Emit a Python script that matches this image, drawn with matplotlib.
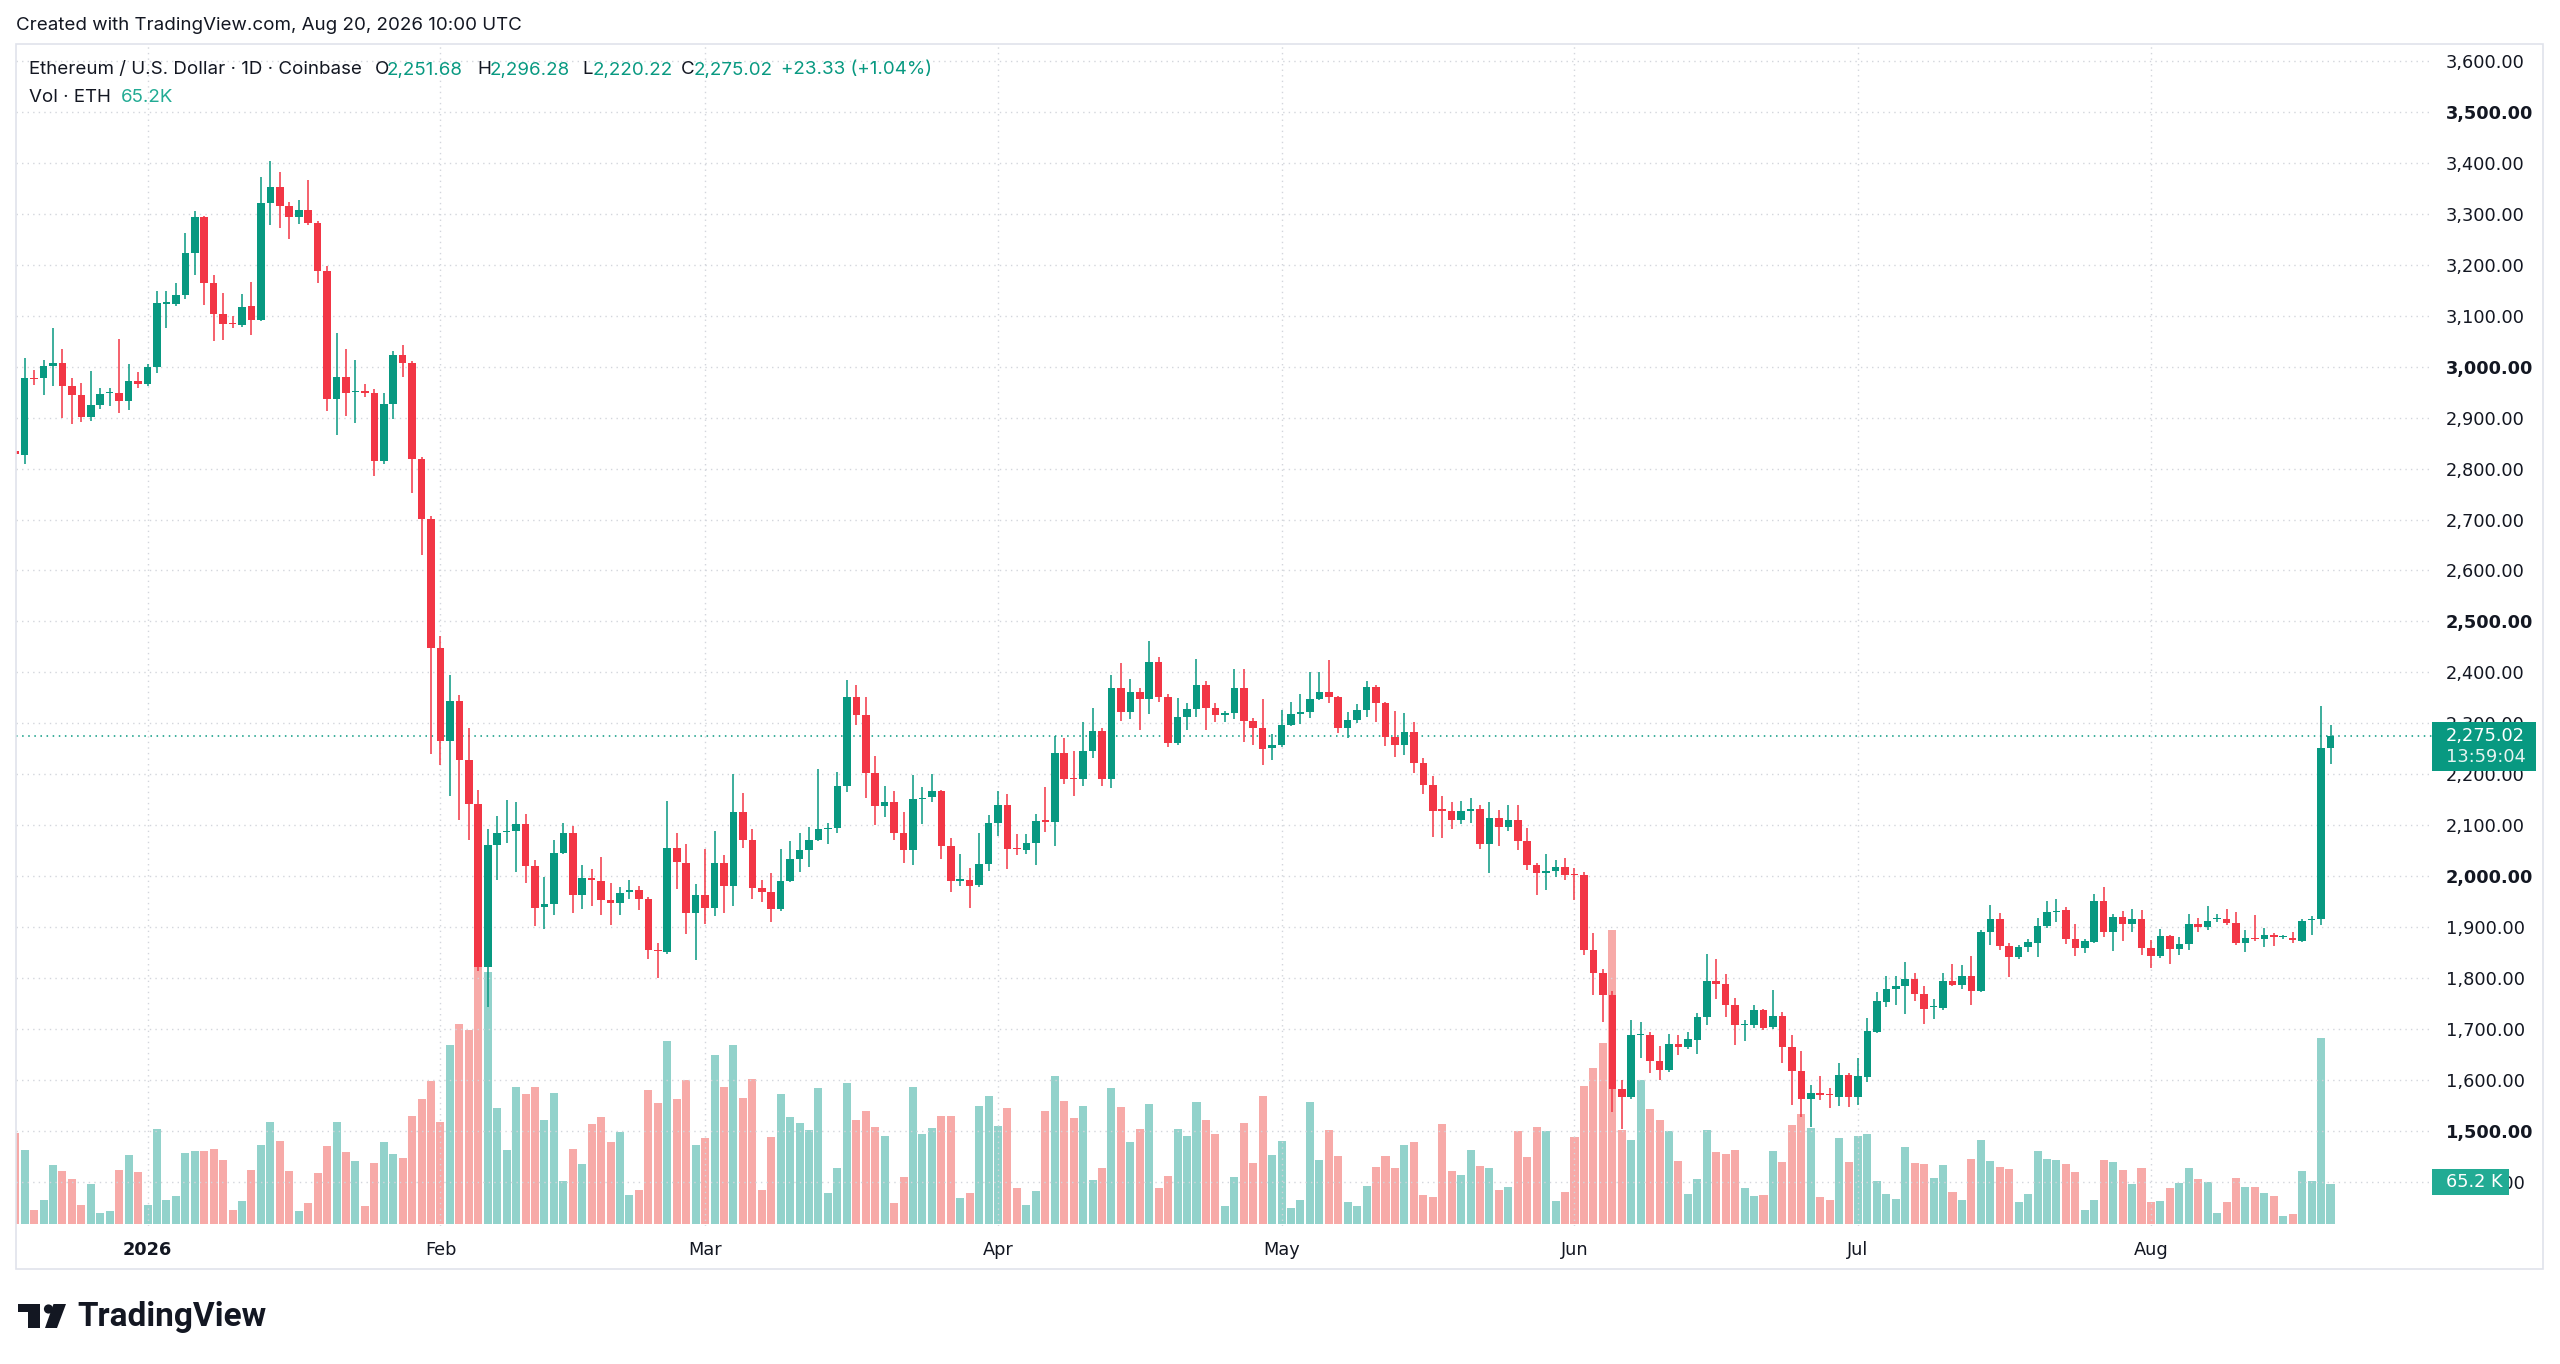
import numpy as np
import pandas as pd
import matplotlib
matplotlib.use("Agg")
import matplotlib.pyplot as plt
from matplotlib.patches import Rectangle, Polygon, Circle

# daily candles, Dec 18 2025 .. Aug 20 2026
start_date = "2025-12-18"

opens = [
    2835, 2827, 2978, 2977, 3001, 3008, 2962, 2944, 2902, 2925, 2948, 2949, 2933, 2971,
    2966, 3000, 3124, 3124, 3141, 3223, 3294, 3164, 3104, 3086, 3081, 3119, 3091, 3322, 3352, 3315,
    3294, 3307, 3283, 3187, 2937, 2979, 2951, 2953, 2949, 2814, 2926, 3022, 3007, 2819, 2701,
    2447, 2266, 2344, 2229, 2142, 1822, 2062, 2087, 2088, 2103, 2020, 1940, 1946, 2045, 2085,
    1964, 1996, 1990, 1953, 1948, 1969, 1973, 1956, 1856, 1851, 2056, 2026, 1928,
    1963, 1938, 2025, 1981, 2126, 2072, 1977, 1969, 1936, 1991, 2034, 2051, 2072, 2092, 2095,
    2177, 2352, 2317, 2203, 2138, 2146, 2084, 2052, 2151, 2155, 2167, 2059, 1991, 1993, 1982, 2023,
    2104, 2140, 2056, 2052, 2066, 2110, 2106, 2241, 2192, 2190, 2246, 2285, 2191, 2370, 2323,
    2362, 2348, 2420, 2351, 2262, 2313, 2328, 2375, 2331, 2316, 2320, 2370, 2304, 2290, 2252,
    2257, 2296, 2318, 2323, 2348, 2361, 2351, 2290, 2307, 2327, 2372, 2340, 2274, 2257, 2283,
    2223, 2179, 2131, 2128, 2110, 2127, 2131, 2064, 2115, 2097, 2110, 2069, 2021, 2007, 2011, 2018,
    2004, 2003, 1856, 1810, 1767, 1582, 1566, 1689, 1689, 1638, 1619, 1670, 1664, 1679, 1723,
    1794, 1789, 1748, 1708, 1707, 1737, 1704, 1725, 1664, 1618, 1563, 1574, 1572, 1567, 1610,
    1567, 1606, 1695, 1754, 1779, 1784, 1798, 1769, 1743, 1742, 1794, 1786, 1805, 1774, 1890,
    1916, 1862, 1841, 1861, 1869, 1902, 1930, 1934, 1876, 1859, 1871, 1952, 1890, 1919, 1907, 1916,
    1859, 1843, 1882, 1857, 1867, 1907, 1901, 1915, 1915, 1908, 1869, 1879, 1877, 1884, 1880,
    1879, 1872, 1914, 1916, 2251.68,
]
highs = [
    2995, 3018, 2993, 3013, 3076, 3034, 2977, 2969, 2992, 2959, 2959, 3055, 3005, 2990,
    3006, 3148, 3148, 3165, 3263, 3306, 3296, 3180, 3145, 3099, 3143, 3166, 3373, 3404, 3382, 3324,
    3327, 3366, 3286, 3197, 3066, 3035, 3014, 2966, 2956, 2948, 3031, 3042, 3011, 2823, 2707,
    2472, 2394, 2356, 2291, 2169, 2093, 2119, 2150, 2146, 2122, 2031, 1998, 2072, 2105, 2099,
    2022, 2015, 2037, 1986, 1979, 1993, 1981, 1960, 1868, 2148, 2084, 2064, 1985,
    2053, 2088, 2041, 2200, 2163, 2092, 1993, 2006, 2053, 2069, 2085, 2096, 2210, 2105, 2204,
    2385, 2376, 2352, 2235, 2177, 2167, 2126, 2198, 2176, 2200, 2170, 2075, 2044, 2016, 2084, 2121,
    2167, 2161, 2082, 2082, 2123, 2176, 2275, 2272, 2246, 2303, 2331, 2290, 2395, 2418, 2388,
    2370, 2462, 2430, 2357, 2349, 2340, 2426, 2383, 2340, 2325, 2406, 2406, 2311, 2348, 2279,
    2327, 2342, 2357, 2400, 2400, 2425, 2353, 2323, 2338, 2384, 2375, 2341, 2325, 2320, 2302,
    2231, 2197, 2157, 2146, 2148, 2154, 2139, 2146, 2129, 2140, 2139, 2095, 2026, 2043, 2031, 2035,
    2016, 2008, 1889, 1818, 1774, 1600, 1718, 1713, 1695, 1666, 1691, 1689, 1695, 1731, 1848,
    1838, 1809, 1761, 1718, 1748, 1739, 1777, 1733, 1689, 1656, 1590, 1607, 1584, 1633, 1613,
    1643, 1722, 1773, 1805, 1805, 1831, 1810, 1784, 1759, 1810, 1828, 1825, 1844, 1895, 1944,
    1928, 1869, 1865, 1877, 1917, 1951, 1955, 1939, 1907, 1876, 1965, 1979, 1926, 1932, 1936, 1934,
    1874, 1897, 1885, 1881, 1926, 1918, 1941, 1925, 1936, 1930, 1895, 1923, 1899, 1889, 1885,
    1890, 1916, 1921, 2334, 2296.28,
]
lows = [
    2775, 2809, 2965, 2944, 2962, 2900, 2887, 2891, 2894, 2917, 2923, 2909, 2915, 2959,
    2962, 2988, 3075, 3119, 3133, 3180, 3122, 3050, 3053, 3076, 3078, 3063, 3089, 3278, 3272, 3251,
    3281, 3278, 3164, 2913, 2866, 2904, 2889, 2941, 2785, 2810, 2897, 2980, 2752, 2631, 2239,
    2218, 2157, 2110, 2072, 1814, 1743, 1993, 2066, 2008, 1987, 1902, 1897, 1924, 2043, 1928,
    1936, 1942, 1923, 1905, 1923, 1956, 1934, 1837, 1800, 1847, 1975, 1886, 1835,
    1906, 1921, 1927, 1942, 2056, 1956, 1949, 1911, 1932, 1988, 2008, 2019, 2070, 2063, 2085,
    2165, 2296, 2154, 2100, 2116, 2072, 2026, 2022, 2102, 2146, 2033, 1969, 1980, 1938, 1979, 2010,
    2079, 2015, 2041, 2044, 2021, 2087, 2059, 2180, 2157, 2177, 2231, 2177, 2174, 2305, 2308,
    2287, 2318, 2341, 2254, 2258, 2287, 2313, 2287, 2302, 2302, 2308, 2264, 2257, 2218, 2229,
    2254, 2294, 2298, 2310, 2346, 2340, 2281, 2271, 2300, 2313, 2303, 2256, 2233, 2237, 2203,
    2161, 2077, 2075, 2092, 2102, 2104, 2054, 2007, 2059, 2089, 2051, 2013, 1963, 1972, 1999, 1992,
    1954, 1845, 1767, 1714, 1538, 1503, 1562, 1643, 1613, 1600, 1616, 1649, 1661, 1651, 1708,
    1758, 1723, 1668, 1677, 1702, 1699, 1701, 1633, 1550, 1528, 1507, 1560, 1545, 1548, 1547,
    1550, 1596, 1692, 1743, 1748, 1729, 1756, 1710, 1720, 1737, 1784, 1779, 1748, 1772, 1864,
    1856, 1802, 1837, 1851, 1842, 1899, 1910, 1866, 1844, 1850, 1869, 1881, 1854, 1872, 1891, 1846,
    1820, 1840, 1827, 1846, 1855, 1890, 1894, 1910, 1905, 1864, 1851, 1872, 1861, 1863, 1876,
    1869, 1871, 1885, 1905, 2220.22,
]
closes = [
    2828, 2977, 2976, 3001, 3008, 2962, 2944, 2902, 2925, 2946, 2950, 2933, 2971, 2966,
    3000, 3125, 3127, 3141, 3223, 3294, 3164, 3104, 3084, 3083, 3117, 3091, 3322, 3352, 3315, 3294,
    3307, 3283, 3187, 2937, 2979, 2949, 2953, 2949, 2814, 2926, 3022, 3007, 2819, 2701, 2447,
    2266, 2344, 2229, 2142, 1822, 2062, 2085, 2089, 2103, 2020, 1938, 1946, 2045, 2085, 1964,
    1996, 1992, 1953, 1948, 1967, 1973, 1956, 1855, 1853, 2056, 2027, 1928, 1963,
    1938, 2025, 1981, 2126, 2072, 1977, 1969, 1936, 1991, 2034, 2051, 2072, 2092, 2095, 2177,
    2352, 2317, 2203, 2138, 2146, 2084, 2052, 2152, 2154, 2167, 2059, 1990, 1994, 1980, 2023, 2104,
    2140, 2054, 2053, 2066, 2108, 2107, 2241, 2190, 2190, 2246, 2285, 2191, 2370, 2323, 2362,
    2348, 2420, 2351, 2262, 2313, 2328, 2375, 2331, 2316, 2320, 2370, 2304, 2290, 2250, 2257,
    2296, 2318, 2323, 2348, 2361, 2351, 2290, 2307, 2327, 2372, 2340, 2274, 2257, 2283, 2223,
    2179, 2128, 2128, 2110, 2127, 2131, 2064, 2115, 2097, 2110, 2069, 2021, 2007, 2011, 2018, 2003,
    2002, 1856, 1810, 1767, 1582, 1566, 1689, 1691, 1638, 1619, 1670, 1664, 1680, 1723, 1794,
    1789, 1748, 1707, 1710, 1737, 1702, 1725, 1664, 1617, 1563, 1574, 1570, 1570, 1610, 1567,
    1607, 1697, 1756, 1779, 1784, 1798, 1769, 1740, 1745, 1794, 1786, 1805, 1774, 1890, 1916,
    1862, 1841, 1861, 1871, 1902, 1929, 1932, 1876, 1859, 1872, 1952, 1890, 1919, 1907, 1916, 1859,
    1843, 1882, 1857, 1867, 1907, 1901, 1912, 1918, 1908, 1869, 1879, 1877, 1884, 1880, 1882,
    1874, 1912, 1916, 2251.69, 2275.02,
]
# volume, thousand ETH
volumes = [
    149.4, 120.6, 22.8, 39.7, 96.7, 86.9, 73.3, 31.5, 65.7, 17.9, 21.7, 88.6, 113.0, 84.8,
    31.5, 155.4, 39.7, 46.2, 115.7, 119.5, 119.5, 122.8, 104.9, 22.8, 38.6, 88.6, 129.3, 166.8, 135.8, 86.9,
    21.7, 34.8, 83.7, 128.2, 166.8, 117.9, 103.8, 30.4, 100.0, 134.2, 114.1, 107.6, 176.0, 204.3, 233.6,
    166.8, 292.3, 326.5, 317.3, 420.0, 412.0, 190.2, 120.6, 224.4, 211.9, 224.4, 170.6, 214.1, 70.6, 122.8,
    97.8, 163.0, 174.4, 133.7, 150.0, 47.8, 55.4, 218.9, 197.8, 298.8, 204.3, 235.2, 129.3,
    141.3, 276.0, 224.4, 292.3, 205.4, 236.9, 55.4, 142.3, 211.9, 174.4, 165.2, 153.8, 221.7, 51.1, 92.4,
    230.9, 170.6, 184.7, 158.1, 144.0, 34.8, 77.1, 224.4, 147.8, 156.5, 177.1, 176.0, 43.5, 51.1, 192.3, 208.6,
    160.8, 190.2, 59.8, 32.1, 53.8, 184.7, 242.3, 200.5, 173.3, 193.4, 71.7, 92.4, 221.7, 191.2, 133.7,
    155.4, 196.1, 58.7, 79.3, 155.4, 143.4, 198.8, 170.6, 147.2, 30.4, 76.6, 165.2, 100.0, 209.2, 113.0,
    135.8, 26.6, 39.7, 199.9, 104.9, 153.8, 111.9, 36.9, 29.3, 63.0, 93.4, 111.9, 92.4, 129.3, 134.7,
    47.8, 44.6, 163.0, 86.9, 80.4, 120.6, 95.1, 92.4, 55.4, 61.4, 151.6, 110.3, 158.1, 152.7, 38.6, 52.2,
    142.3, 226.0, 255.4, 296.1, 479.7, 153.8, 137.5, 234.7, 187.4, 169.5, 152.7, 103.8, 49.4, 73.9, 153.8,
    117.9, 115.2, 121.7, 59.8, 46.2, 47.8, 119.5, 101.1, 161.9, 179.8, 157.6, 44.6, 39.7, 141.3, 101.1,
    144.5, 147.8, 70.6, 50.0, 41.3, 126.0, 100.0, 98.9, 75.5, 96.7, 52.2, 39.7, 106.5, 136.9, 103.8,
    93.4, 90.7, 36.9, 48.9, 119.5, 106.5, 104.9, 98.9, 85.8, 23.4, 39.7, 104.9, 101.1, 88.6, 65.2, 91.3,
    36.9, 38.6, 59.8, 67.9, 91.3, 73.9, 69.0, 17.9, 36.9, 75.5, 61.4, 61.4, 51.1, 45.6, 13.6,
    16.3, 86.9, 70.6, 304.2, 65.2,
]

month_labels = ["2026", "Feb", "Mar", "Apr", "May", "Jun", "Jul", "Aug"]
price_ticks = np.arange(1400, 3601, 100)

GREEN = "#089981"
RED = "#F23645"
VOL_UP = "#92D2CB"
VOL_DN = "#F7AAA8"
TXT = "#131722"
GRID = "#D3D6DC"
BORDER = "#E0E3EB"

W, H = 2560, 1364
fig = plt.figure(figsize=(W / 100, H / 100), dpi=100)
fig.patch.set_facecolor("white")


def fx(px):
    return px / W


def fy(py):
    return 1 - py / H


ref = pd.Timestamp("2026-01-01")
dates = pd.date_range(start_date, periods=len(closes), freq="D")
x = np.asarray((dates - ref).days, dtype=float)
o = np.array(opens, dtype=float)
h = np.array(highs, dtype=float)
l = np.array(lows, dtype=float)
c = np.array(closes, dtype=float)
v = np.array(volumes, dtype=float)
up = c >= o

ax = fig.add_axes([fx(15.5), fy(1226), fx(2432) - fx(15.5), fy(44) - fy(1226)])
axv = ax.twinx()
ax.set_zorder(axv.get_zorder() + 1)
ax.patch.set_visible(False)

# volume pane (behind candles)
axv.bar(x, v, width=0.85, color=np.where(up, VOL_UP, VOL_DN), linewidth=0)
axv.set_ylim(-2.8, 1924)
axv.set_yticks([])
for s in axv.spines.values():
    s.set_visible(False)

# candles
cols = np.where(up, GREEN, RED)
ax.vlines(x, l, h, colors=cols, linewidth=1.1, zorder=3)
ax.bar(x, np.maximum(np.abs(c - o), 2.0), bottom=np.minimum(o, c), width=0.8,
       color=cols, linewidth=0, zorder=4)
ax.axhline(c[-1], color=GREEN, linewidth=1.1, linestyle=(0, (1, 3)), zorder=2)

ax.set_xlim(-13.97, 241.74)
ax.set_ylim(1313.4, 3633.4)

month_starts = pd.date_range("2026-01-01", periods=len(month_labels), freq="MS")
ax.set_xticks((month_starts - ref).days)
ax.set_xticklabels(month_labels)
ax.yaxis.tick_right()
ax.set_yticks(price_ticks)
ax.set_yticklabels([f"{p:,.2f}" for p in price_ticks])
ax.tick_params(axis="y", length=0, pad=10, labelsize=12.8, labelcolor=TXT)
ax.tick_params(axis="x", length=0, pad=11, labelsize=12.8, labelcolor=TXT)
for lab, p in zip(ax.get_yticklabels(), price_ticks):
    if p % 500 == 0:
        lab.set_fontweight("bold")
ax.get_xticklabels()[0].set_fontweight("bold")
ax.grid(True, color=GRID, linewidth=1.0, linestyle=(0, (1, 3)), zorder=0)
ax.set_axisbelow(True)
for s in ax.spines.values():
    s.set_visible(False)

# overlay in pixel coordinates for the TradingView frame and labels
ov = fig.add_axes([0, 0, 1, 1], zorder=10)
ov.set_xlim(0, W)
ov.set_ylim(H, 0)
ov.axis("off")
ov.patch.set_alpha(0)

ov.add_patch(Rectangle((15.5, 44), 2543 - 15.5, 1269 - 44, fill=False,
                       edgecolor=BORDER, linewidth=1.2))

ui = ["Inter", "DejaVu Sans"]
fs = 13.5
ov.text(16, 25, "Created with TradingView.com, Aug 20, 2026 10:00 UTC", fontsize=fs,
        color=TXT, va="center", ha="left", family=ui)

ov.text(29, 70, "Ethereum / U.S. Dollar · 1D · Coinbase", fontsize=fs, color=TXT,
        va="center", ha="left", family=ui)
legend_parts = [("O", 375), ("H", 477), ("L", 582), ("C", 681)]
ohlc_last = [opens[-1], highs[-1], lows[-1], closes[-1]]
value_x = [387, 490, 593, 694]
for (key, kx), val, vx in zip(legend_parts, ohlc_last, value_x):
    ov.text(kx, 70, key, fontsize=fs, color=TXT, va="center", ha="left", family=ui)
    ov.text(vx, 70, f"{val:,.2f}", fontsize=fs, color=GREEN, va="center", ha="left", family=ui)
chg = closes[-1] - closes[-2]
ov.text(781, 70, f"{chg:+.2f} ({chg / closes[-2] * 100:+.2f}%)", fontsize=fs, color=GREEN,
        va="center", ha="left", family=ui)
ov.text(29, 97, "Vol · ETH", fontsize=fs, color=TXT, va="center", ha="left", family=ui)
ov.text(121, 97, f"{volumes[-1]:.1f}K", fontsize=fs, color="#22AB94", va="center",
        ha="left", family=ui)

# last price badge
ov.add_patch(Rectangle((2432, 722), 104, 49, facecolor=GREEN, edgecolor="none"))
ov.text(2446, 736, f"{closes[-1]:,.2f}", fontsize=12.8, color="white", va="center", ha="left")
ov.text(2446, 757, "13:59:04", fontsize=12.8, color="#E6F4F1", va="center", ha="left")
# volume badge
ov.add_patch(Rectangle((2432, 1169), 77, 26, facecolor="#22AB94", edgecolor="none"))
ov.text(2446, 1182, f"{volumes[-1]:.1f} K", fontsize=12.8, color="white", va="center", ha="left")

# TradingView logo
ov.add_patch(Polygon([(18, 1304), (40, 1304), (40, 1328), (28, 1328), (28, 1312), (18, 1312)],
                     closed=True, facecolor=TXT, edgecolor="none"))
ov.add_patch(Circle((48.5, 1309), 4.6, facecolor=TXT, edgecolor="none"))
ov.add_patch(Polygon([(53.5, 1304), (66, 1304), (57, 1328), (45, 1328)],
                     closed=True, facecolor=TXT, edgecolor="none"))
ov.text(77, 1317, "TradingView", fontsize=24, fontweight="bold", color=TXT,
        va="center", ha="left", family=["Roboto", "DejaVu Sans"])

fig.savefig("out.png", dpi=100, facecolor="white")
